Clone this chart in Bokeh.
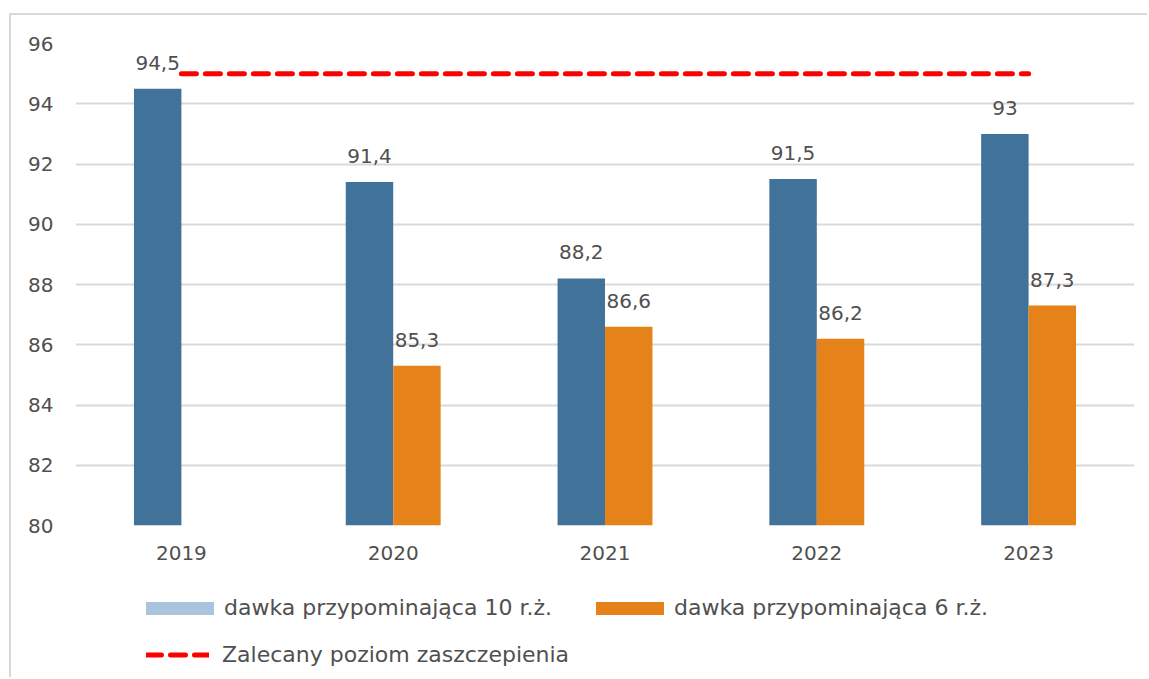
from bokeh.plotting import figure
from bokeh.layouts import column
from bokeh.models import ColumnDataSource, FactorRange, Range1d, Legend, LegendItem, FixedTicker
from bokeh.transform import dodge
from bokeh.core.properties import value
from bokeh.embed import file_html
from bokeh.resources import INLINE
import math

years = ["2019", "2020", "2021", "2022", "2023"]
dawka_10 = [94.5, 91.4, 88.2, 91.5, 93.0]
dawka_6 = [float("nan"), 85.3, 86.6, 86.2, 87.3]
zalecany = [95, 95, 95, 95, 95]
y_ticks = [80, 82, 84, 86, 88, 90, 92, 94, 96]

name_10 = "dawka przypominająca 10 r.ż."
name_6 = "dawka przypominająca 6 r.ż."
name_line = "Zalecany poziom zaszczepienia"

FONT = "DejaVu Sans"
TXT = "#505050"
BLUE = "#41729A"
LIGHT_BLUE = "#A9C4DC"
ORANGE = "#E5821A"
RED = "#FF0000"
BORDER = "2px solid #D9D9D9"


def fmt(v):
    return ("%g" % v).replace(".", ",")


src10 = ColumnDataSource(dict(x=years, top=dawka_10, label=[fmt(v) for v in dawka_10]))
y6 = [y for y, v in zip(years, dawka_6) if not math.isnan(v)]
v6 = [v for v in dawka_6 if not math.isnan(v)]
src6 = ColumnDataSource(dict(x=y6, top=v6, label=[fmt(v) for v in v6]))

# ---------------- main chart ----------------
p = figure(x_range=FactorRange(*years, range_padding=0), y_range=Range1d(80, 96),
           width=1138, height=565, output_backend="svg", toolbar_location=None,
           min_border_left=64, min_border_right=15, min_border_top=28, min_border_bottom=55)
p.styles = {"border-left": BORDER, "border-top": BORDER}
p.outline_line_color = None

bw = 0.224
p.vbar(x=dodge("x", -bw / 2, range=p.x_range), top="top", bottom=80, width=bw,
       source=src10, fill_color=BLUE, line_color=None)
p.vbar(x=dodge("x", bw / 2, range=p.x_range), top="top", bottom=80, width=bw,
       source=src6, fill_color=ORANGE, line_color=None)
p.line(x=years, y=zalecany, line_color=RED, line_width=5,
       line_dash="15 9", line_cap="round")

for src, off in ((src10, -bw / 2), (src6, bw / 2)):
    p.text(x=dodge("x", off, range=p.x_range), y="top", text="label", source=src,
           text_align="center", text_baseline="alphabetic", y_offset=-26,
           text_font=value(FONT), text_font_size="20px", text_color=TXT)

p.xgrid.visible = False
p.ygrid.grid_line_color = "#D9D9D9"
p.ygrid.grid_line_width = 2
p.yaxis.ticker = FixedTicker(ticks=y_ticks)

for ax in (p.xaxis, p.yaxis):
    ax.axis_line_color = None
    ax.major_tick_line_color = None
    ax.minor_tick_line_color = None
    ax.major_tick_out = 0
    ax.major_tick_in = 0
    ax.minor_tick_out = 0
    ax.major_label_text_font = FONT
    ax.major_label_text_font_size = "20px"
    ax.major_label_text_color = TXT
p.yaxis.major_label_standoff = 22
p.xaxis.major_label_standoff = 20

# ---------------- legend strip ----------------
lg = figure(width=1138, height=99, output_backend="svg", toolbar_location=None,
            x_axis_type=None, y_axis_type=None, min_border=0,
            x_range=Range1d(0, 1), y_range=Range1d(0, 1))
lg.styles = {"border-left": BORDER}
lg.outline_line_color = None
lg.grid.visible = False
# key glyphs only (kept outside the visible range of the legend strip)
k10 = lg.vbar(x=[-5], top=[-5], bottom=[-6], width=0.1, fill_color=LIGHT_BLUE, line_color=None)
k6 = lg.vbar(x=[-5], top=[-5], bottom=[-6], width=0.1, fill_color=ORANGE, line_color=None)
kl = lg.line(x=[-6, -5], y=[-5, -5], line_color=RED, line_width=5, line_dash="15 9",
             line_cap="round")


def add_leg(item, loc, gw, gh, standoff):
    L = Legend(items=[item], location=loc, orientation="horizontal",
               border_line_color=None, background_fill_alpha=0, padding=0, margin=0,
               spacing=0, glyph_width=gw, glyph_height=gh, label_height=24,
               label_standoff=standoff, label_text_font=FONT, label_text_font_size="22px",
               label_text_color=TXT)
    lg.add_layout(L, "center")


add_leg(LegendItem(label=name_10, renderers=[k10]), (62, 57), 85, 16, 2)
add_leg(LegendItem(label=name_6, renderers=[k6]), (512, 57), 85, 16, 2)
add_leg(LegendItem(label=name_line, renderers=[kl]), (71, 10), 63, 13, 13)

layout = column(p, lg, spacing=0)
layout.margin = (13, 0, 0, 9)

open("out.html", "w").write(file_html(layout, INLINE))
